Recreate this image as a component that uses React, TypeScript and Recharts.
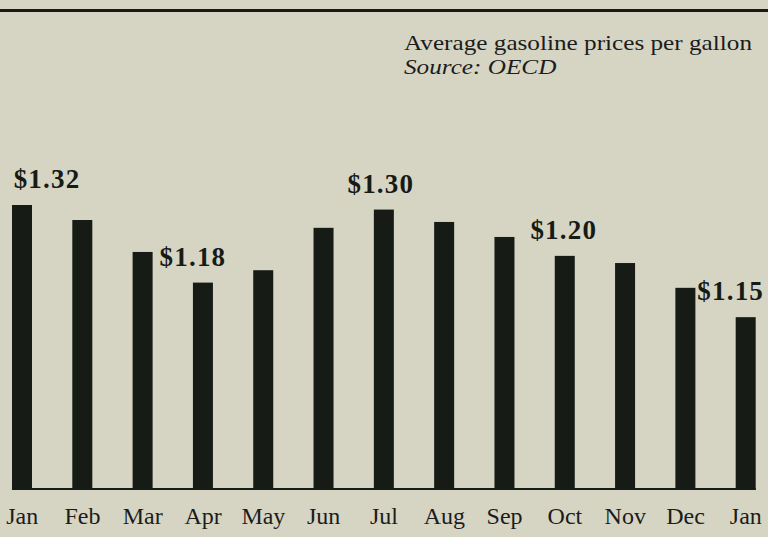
import { BarChart, Bar, XAxis, YAxis, LabelList } from "recharts";

const months = ["Jan", "Feb", "Mar", "Apr", "May", "Jun", "Jul", "Aug", "Sep", "Oct", "Nov", "Dec", "Jan"];
const prices = [1.305, 1.282, 1.233, 1.186, 1.205, 1.27, 1.298, 1.279, 1.256, 1.227, 1.216, 1.178, 1.133];
const priceLabels = ["$1.32", "", "", "$1.18", "", "", "$1.30", "", "", "$1.20", "", "", "$1.15"];

const data = months.map((month, i) => ({ month, price: prices[i], label: priceLabels[i] }));

const BG = "#d6d5c4";
const INK = "#161b16";
const SERIF = "'Liberation Serif', 'Times New Roman', serif";

// nudges for the printed price tags, by bar index
const labelShift: Record<number, number> = { 0: 25, 3: -10, 6: -3, 9: -1, 12: -15 };

const BarWithBase = (props: any) => {
  const { x, y, width, height, index } = props;
  const gap = 21;
  const baseY = y + height;
  const left = index === 0 ? x : x - gap;
  const right = index === months.length - 1 ? x + width : x + width + gap;
  return (
    <g>
      <rect x={x} y={y} width={width} height={height} fill={INK} />
      <rect x={left} y={baseY - 2} width={right - left} height={4} fill={INK} />
    </g>
  );
};

const PriceTag = (props: any) => {
  const { x, y, width, value, index } = props;
  if (!value) return null;
  const cx = x + width / 2 + (labelShift[index] ?? 0);
  return (
    <text
      x={cx}
      y={y - 17}
      textAnchor="middle"
      fontFamily={SERIF}
      fontWeight="bold"
      fontSize={27}
      letterSpacing={1.2}
      fill={INK}
    >
      {value}
    </text>
  );
};

const MonthTick = (props: any) => {
  const { x, y, payload } = props;
  return (
    <text
      x={x}
      y={y + 26}
      textAnchor="middle"
      fontFamily={SERIF}
      fontSize={24}
      fill="#1c1c1c"
    >
      {payload.value}
    </text>
  );
};

export default function App() {
  return (
    <div
      style={{
        position: "absolute",
        left: 0,
        top: 0,
        width: 768,
        height: 537,
        overflow: "hidden",
        background: BG,
      }}
    >
      <div style={{ position: "absolute", left: 0, top: 9, width: 768, height: 3, background: INK }} />
      <div
        style={{
          position: "absolute",
          left: 404,
          top: 31,
          fontFamily: SERIF,
          fontSize: 21,
          lineHeight: "24px",
          color: "#1c1c1c",
          whiteSpace: "nowrap",
          transform: "scaleX(1.2)",
          transformOrigin: "left top",
        }}
      >
        <div>Average gasoline prices per gallon</div>
        <div style={{ fontStyle: "italic" }}>Source: OECD</div>
      </div>
      <div style={{ position: "absolute", left: -30, top: 0 }}>
        <BarChart
          width={828}
          height={537}
          data={data}
          margin={{ top: 190, right: 22, bottom: 7, left: 22 }}
        >
          <XAxis
            dataKey="month"
            height={40}
            axisLine={false}
            tickLine={false}
            interval={0}
            tick={MonthTick}
          />
          <YAxis hide domain={[0.868, 1.328]} allowDataOverflow />
          <Bar dataKey="price" barSize={20} shape={BarWithBase} isAnimationActive={false}>
            <LabelList dataKey="label" content={PriceTag} />
          </Bar>
        </BarChart>
      </div>
    </div>
  );
}
